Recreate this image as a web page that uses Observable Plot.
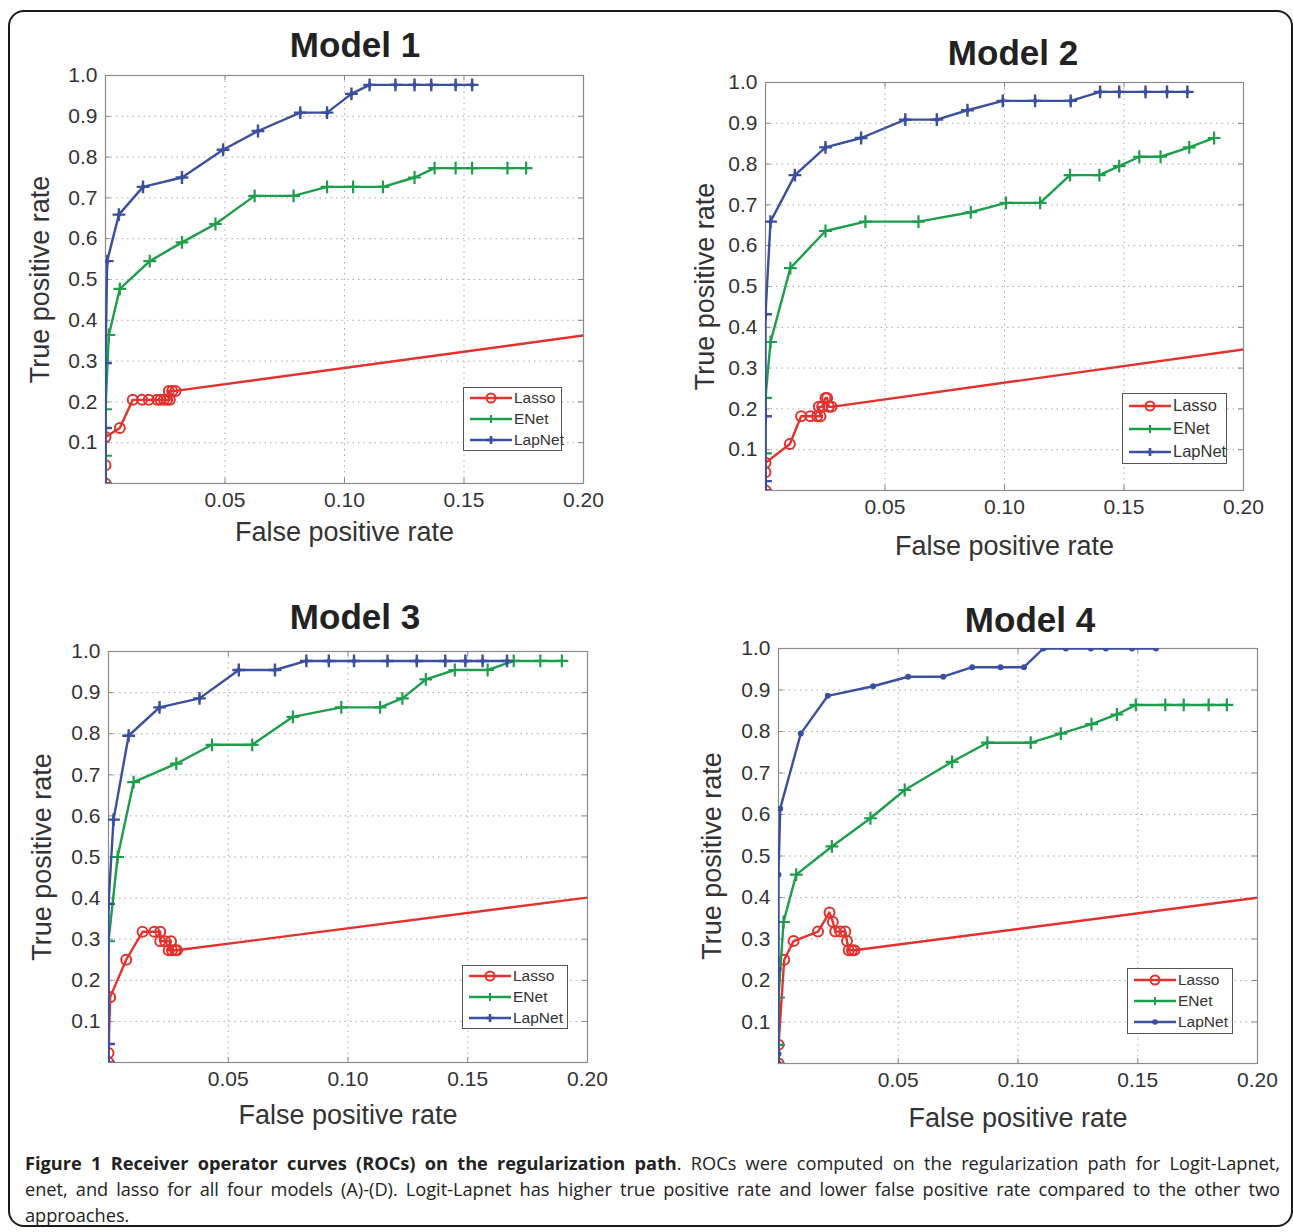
<!DOCTYPE html>
<html>
<head>
<meta charset="utf-8">
<script src="https://cdn.jsdelivr.net/npm/d3@7"></script>
<script src="https://cdn.jsdelivr.net/npm/@observablehq/plot@0.6"></script>
<style>
  html, body { margin: 0; padding: 0; background: #fff; }
  #root { position: relative; width: 1293px; height: 1232px; overflow: hidden; background: #fff; }
  .border { position: absolute; left: 8px; top: 10px; width: 1281px; height: 1213px; border: 2px solid #1a1a1a; border-radius: 16px; }
  .panel { position: absolute; }
  .title { position: absolute; font-family: "Liberation Sans", Arimo, Arial, sans-serif; font-weight: bold; font-size: 35px; color: #222; transform: translate(-50%, -50%); white-space: nowrap; }
  .legend { position: absolute; border: 1px solid #555; background: #fff; font-family: "Liberation Sans", Arimo, Arial, sans-serif; color: #333; }
  .legend .row { position: absolute; left: 0; height: 20px; display: flex; align-items: center; white-space: nowrap; }
  .legend svg { display: block; }
  .caption { position: absolute; left: 25px; width: 1255px; font-family: "Open Sans", "Noto Sans", sans-serif; font-size: 18.2px; color: #222; }
  .caption .ln { height: 26px; line-height: 26px; text-align: justify; text-align-last: justify; white-space: nowrap; }
  .caption .ln.last { text-align-last: left; }
</style>
</head>
<body>
<div id="root">
  <div class="border"></div>
</div>
<script>
// ---------------- data: [false positive rate, true positive rate]
const m1Lasso = [[0,0],[0,0.045],[0,0.114],[0.006,0.136],[0.0114,0.205],[0.0153,0.205],[0.0181,0.205],[0.0216,0.205],[0.023,0.205],[0.0244,0.205],[0.0258,0.205],[0.0269,0.205],[0.0265,0.227],[0.0279,0.227],[0.0293,0.227],[1,1]];
const m1ENet = [[0,0],[0,0.068],[0,0.182],[0.0014,0.364],[0.006,0.477],[0.0185,0.545],[0.032,0.591],[0.046,0.636],[0.0624,0.705],[0.0787,0.705],[0.0927,0.727],[0.1036,0.727],[0.1161,0.727],[0.1293,0.75],[0.1377,0.773],[0.1465,0.773],[0.1534,0.773],[0.1682,0.773],[0.176,0.773]];
const m1LapNet = [[0,0],[0,0.136],[0,0.295],[0.0007,0.545],[0.0056,0.659],[0.0157,0.727],[0.032,0.75],[0.0492,0.818],[0.0638,0.864],[0.0815,0.909],[0.0927,0.909],[0.1029,0.955],[0.1105,0.977],[0.1213,0.977],[0.1293,0.977],[0.1363,0.977],[0.1465,0.977],[0.1534,0.977]];

const m2Lasso = [[0,0],[0,0.045],[0,0.068],[0.0102,0.114],[0.0149,0.182],[0.0188,0.182],[0.0216,0.182],[0.023,0.182],[0.0223,0.205],[0.0237,0.205],[0.0251,0.227],[0.0258,0.227],[0.0265,0.205],[0.0276,0.205],[1,1]];
const m2ENet = [[0,0],[0,0.091],[0,0.227],[0.0021,0.364],[0.0104,0.545],[0.0251,0.636],[0.0418,0.659],[0.064,0.659],[0.0859,0.682],[0.1006,0.705],[0.1149,0.705],[0.1274,0.773],[0.1397,0.773],[0.148,0.795],[0.1564,0.818],[0.1653,0.818],[0.1773,0.841],[0.1877,0.864]];
const m2LapNet = [[0,0],[0,0.023],[0,0.182],[0,0.432],[0.0021,0.659],[0.0123,0.773],[0.0251,0.841],[0.04,0.864],[0.0585,0.909],[0.0717,0.909],[0.0845,0.932],[0.0993,0.955],[0.1128,0.955],[0.1277,0.955],[0.14,0.977],[0.148,0.977],[0.159,0.977],[0.168,0.977],[0.1765,0.977]];

const m3Lasso = [[0,0],[0,0.023],[0.0007,0.159],[0.0074,0.25],[0.0142,0.318],[0.0191,0.318],[0.0216,0.318],[0.0216,0.295],[0.0237,0.295],[0.0261,0.295],[0.0251,0.273],[0.0265,0.273],[0.0279,0.273],[0.0286,0.273],[1,1]];
const m3ENet = [[0,0],[0,0.295],[0.0038,0.5],[0.0105,0.682],[0.0283,0.727],[0.0432,0.773],[0.06,0.773],[0.077,0.841],[0.0972,0.864],[0.1134,0.864],[0.1227,0.886],[0.1325,0.932],[0.1446,0.955],[0.1583,0.955],[0.1692,0.977],[0.1803,0.977],[0.1893,0.977]];
const m3LapNet = [[0,0],[0,0.045],[0,0.386],[0.0021,0.591],[0.0084,0.795],[0.0213,0.864],[0.038,0.886],[0.0544,0.955],[0.0695,0.955],[0.0826,0.977],[0.092,0.977],[0.1025,0.977],[0.1165,0.977],[0.1287,0.977],[0.1406,0.977],[0.149,0.977],[0.1562,0.977],[0.1664,0.977]];

const m4Lasso = [[0,0],[0,0.045],[0.0024,0.25],[0.0063,0.295],[0.0165,0.318],[0.0213,0.364],[0.0227,0.341],[0.0237,0.318],[0.0258,0.318],[0.0279,0.318],[0.0286,0.295],[0.0293,0.273],[0.0307,0.273],[0.0317,0.273],[1,1]];
const m4ENet = [[0,0],[0,0.045],[0,0.159],[0.0021,0.341],[0.0074,0.455],[0.0223,0.523],[0.0384,0.591],[0.0527,0.659],[0.0725,0.727],[0.0872,0.773],[0.1053,0.773],[0.1179,0.795],[0.1307,0.818],[0.1413,0.841],[0.1492,0.864],[0.1615,0.864],[0.1692,0.864],[0.1796,0.864],[0.1872,0.864]];
const m4LapNet = [[0,0],[0,0.023],[0,0.227],[0,0.455],[0.0007,0.614],[0.0093,0.795],[0.0206,0.886],[0.0395,0.909],[0.0541,0.932],[0.0688,0.932],[0.0809,0.955],[0.0927,0.955],[0.1025,0.955],[0.1106,1],[0.12,1],[0.1304,1],[0.1367,1],[0.1476,1],[0.1576,1]];

const xTicks = [0.05, 0.10, 0.15, 0.20];
const yTicks = [0.1, 0.2, 0.3, 0.4, 0.5, 0.6, 0.7, 0.8, 0.9, 1.0];
const xGrid = [0.05, 0.10, 0.15];
const yGrid = [0.1, 0.2, 0.3, 0.4, 0.5, 0.6, 0.7, 0.8, 0.9];
const seriesNames = ["Lasso", "ENet", "LapNet"];
const titles = ["Model 1", "Model 2", "Model 3", "Model 4"];
const xLabel = "False positive rate";
const yLabel = "True positive rate";

// ---------------- styles
const RED = "#e3312e", GREEN = "#1d9e4c", BLUE = "#3c4f9f";
const FONT = "'Liberation Sans', Arimo, Arial, sans-serif";

const panels = [
  {title: titles[0], tx: 355, ty: 45, left: 0,   top: 60,  width: 600, height: 500, mL: 105, mT: 15, mR: 17, mB: 77,
   lasso: m1Lasso, enet: m1ENet, lapnet: m1LapNet, lapDot: false, xlOff: 49, ylOff: 65,
   leg: {left: 463, top: 387, w: 99, h: 64}},
  {title: titles[1], tx: 1013, ty: 53, left: 650, top: 65, width: 620, height: 510, mL: 115, mT: 17, mR: 27, mB: 85,
   lasso: m2Lasso, enet: m2ENet, lapnet: m2LapNet, lapDot: false, xlOff: 56, ylOff: 60,
   leg: {left: 1122, top: 393, w: 105, h: 71}},
  {title: titles[2], tx: 355, ty: 617, left: 0,  top: 635, width: 610, height: 510, mL: 108, mT: 16, mR: 23, mB: 83,
   lasso: m3Lasso, enet: m3ENet, lapnet: m3LapNet, lapDot: false, xlOff: 53, ylOff: 66,
   leg: {left: 462, top: 965, w: 106, h: 64}},
  {title: titles[3], tx: 1030, ty: 620, left: 650, top: 630, width: 630, height: 520, mL: 128, mT: 18, mR: 23, mB: 87,
   lasso: m4Lasso, enet: m4ENet, lapnet: m4LapNet, lapDot: true, xlOff: 55, ylOff: 66,
   leg: {left: 1127, top: 968, w: 106, h: 66}}
];

const root = document.getElementById("root");
const X = d => d[0], Y = d => d[1];

for (const p of panels) {
  const frameH = p.height - p.mT - p.mB;
  const frameW = p.width - p.mL - p.mR;
  const chart = Plot.plot({
    width: p.width,
    height: p.height,
    marginLeft: p.mL, marginTop: p.mT, marginRight: p.mR, marginBottom: p.mB,
    x: {domain: [0, 0.2]},
    y: {domain: [0, 1]},
    style: {fontFamily: FONT, fontSize: "21px", color: "#333", background: "transparent", overflow: "visible"},
    marks: [
      Plot.gridX(xGrid, {stroke: "#a8a8a8", strokeOpacity: 1, strokeWidth: 1, strokeDasharray: "1.5,4"}),
      Plot.gridY(yGrid, {stroke: "#a8a8a8", strokeOpacity: 1, strokeWidth: 1, strokeDasharray: "1.5,4"}),
      Plot.tickX(xGrid, {x: d => d, stroke: "#888", insetTop: frameH - 5}),
      Plot.tickX(xGrid, {x: d => d, stroke: "#888", insetBottom: frameH - 5}),
      Plot.tickY(yGrid, {y: d => d, stroke: "#888", insetRight: frameW - 5}),
      Plot.tickY(yGrid, {y: d => d, stroke: "#888", insetLeft: frameW - 5}),
      Plot.axisX(xTicks, {tickSize: 0, tickPadding: 9, tickFormat: d3.format(".2f"), label: null, fill: "#333"}),
      Plot.axisY(yTicks, {tickSize: 0, tickPadding: 8, tickFormat: d3.format(".1f"), label: null, fill: "#333"}),
      Plot.frame({stroke: "#8a8a8a", strokeWidth: 1.2}),
      Plot.text([xLabel], {text: d => d, frameAnchor: "bottom", dy: p.xlOff, fontSize: 27, fill: "#333", textAnchor: "middle", lineAnchor: "middle"}),
      Plot.text([yLabel], {text: d => d, frameAnchor: "left", dx: -p.ylOff, rotate: -90, fontSize: 27, fill: "#333", textAnchor: "middle", lineAnchor: "middle"}),
      // Lasso
      Plot.line(p.lasso, {x: X, y: Y, stroke: RED, strokeWidth: 2.4, clip: true}),
      Plot.dot(p.lasso, {x: X, y: Y, symbol: "circle", r: 5, stroke: RED, strokeWidth: 2, fill: "none", clip: true}),
      // ENet
      Plot.line(p.enet, {x: X, y: Y, stroke: GREEN, strokeWidth: 2.4, clip: true}),
      Plot.dot(p.enet, {x: X, y: Y, symbol: "plus", r: 4.2, stroke: GREEN, strokeWidth: 2.2, fill: GREEN, clip: true}),
      // LapNet
      Plot.line(p.lapnet, {x: X, y: Y, stroke: BLUE, strokeWidth: 2.4, clip: true}),
      p.lapDot
        ? Plot.dot(p.lapnet, {x: X, y: Y, symbol: "circle", r: 3, fill: BLUE, stroke: "none", clip: true})
        : Plot.dot(p.lapnet, {x: X, y: Y, symbol: "plus", r: 4.2, stroke: BLUE, strokeWidth: 2.4, fill: BLUE, clip: true}),
      p.lapDot ? null : Plot.dot(p.lapnet, {x: X, y: Y, symbol: "diamond", r: 2.6, fill: BLUE, stroke: "none", clip: true})
    ]
  });
  const wrap = document.createElement("div");
  wrap.className = "panel";
  wrap.style.left = p.left + "px";
  wrap.style.top = p.top + "px";
  wrap.appendChild(chart);
  root.appendChild(wrap);

  const t = document.createElement("div");
  t.className = "title";
  t.style.left = p.tx + "px";
  t.style.top = p.ty + "px";
  t.textContent = p.title;
  root.appendChild(t);

  // legend
  const lg = document.createElement("div");
  lg.className = "legend";
  const L = p.leg;
  lg.style.left = L.left + "px"; lg.style.top = L.top + "px";
  lg.style.width = (L.w - 2) + "px"; lg.style.height = (L.h - 2) + "px";
  const fs = L.h > 66 ? 16.5 : 15.5;
  const colors = [RED, GREEN, BLUE];
  seriesNames.forEach((name, i) => {
    const row = document.createElement("div");
    row.className = "row";
    const rowY = (L.h - 2) * (i + 0.5) / 3 - 10;
    row.style.top = rowY + "px";
    row.style.left = "6px";
    const c = colors[i];
    let marker;
    if (i === 0) marker = `<circle cx="21" cy="10" r="4.5" fill="none" stroke="${c}" stroke-width="2"/>`;
    else if (i === 1) marker = `<path d="M21,6V14M17,10H25" stroke="${c}" stroke-width="2"/>`;
    else marker = p.lapDot ? `<circle cx="21" cy="10" r="2.8" fill="${c}"/>` : `<path d="M21,6V14M17,10H25" stroke="${c}" stroke-width="2.6"/>`;
    row.innerHTML = `<svg width="42" height="20"><line x1="0" y1="10" x2="42" y2="10" stroke="${c}" stroke-width="2.4"/>${marker}</svg><span style="font-size:${fs}px;margin-left:2px">${name}</span>`;
    lg.appendChild(row);
  });
  root.appendChild(lg);
}

// ---------------- caption
const capLines = [
  '<b>Figure 1 Receiver operator curves (ROCs) on the regularization path</b>. ROCs were computed on the regularization path for Logit-Lapnet,',
  'enet, and lasso for all four models (A)-(D). Logit-Lapnet has higher true positive rate and lower false positive rate compared to the other two',
  'approaches.'
];
const cap = document.createElement("div");
cap.className = "caption";
cap.style.top = "1150px";
capLines.forEach((h, i) => {
  const d = document.createElement("div");
  d.className = "ln" + (i === capLines.length - 1 ? " last" : "");
  d.innerHTML = h;
  cap.appendChild(d);
});
root.appendChild(cap);
</script>
</body>
</html>
